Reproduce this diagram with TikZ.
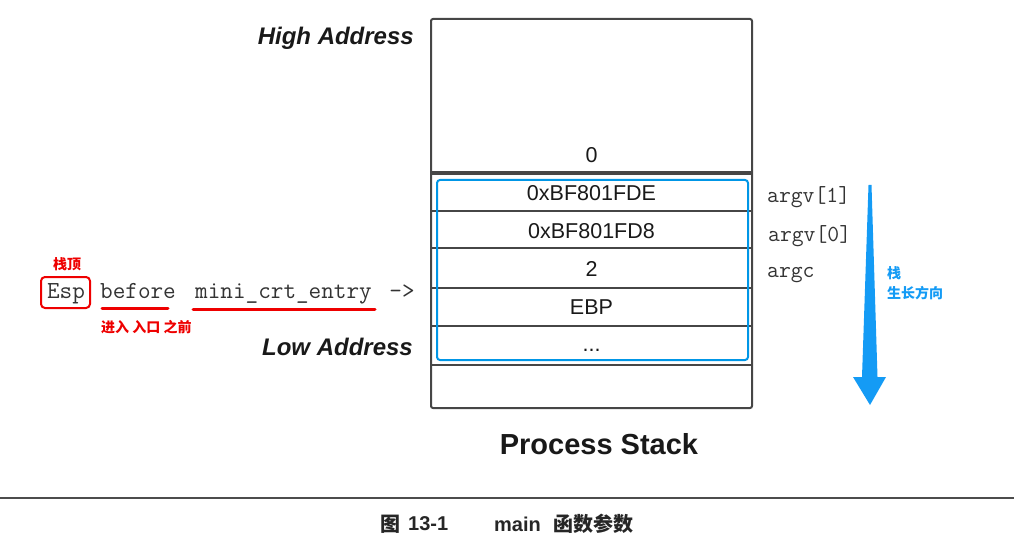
\documentclass[tikz,border=0pt]{standalone}
\usepackage{fontspec}
\setmainfont{Liberation Sans}
\newfontfamily\cjk{Noto Sans CJK SC}
\definecolor{annred}{RGB}{238,0,0}
\definecolor{annblue}{RGB}{20,155,245}
\definecolor{rectblue}{RGB}{0,150,230}
\definecolor{stackgray}{RGB}{70,70,70}
\begin{document}
\begin{tikzpicture}[x=1pt,y=-1pt,
  stackline/.style={draw=stackgray, line width=2.5pt},
  celltext/.style={font=\fontsize{21.5}{21.5}\selectfont, inner sep=0, text=black!90},
  addr/.style={font=\fontsize{24}{24}\selectfont\bfseries\itshape, inner sep=0, anchor=east, text=black!90},
  code/.style={font=\ttfamily\fontsize{24.5}{24.5}\selectfont, inner sep=0, anchor=base, text=black!80},
  argtext/.style={font=\ttfamily\fontsize{23}{23}\selectfont, inner sep=0, anchor=base west, text=black!80},
  redlabel/.style={font=\cjk\bfseries\fontsize{14}{14}\selectfont, inner sep=0, text=annred},
  bluelabel/.style={font=\cjk\bfseries\fontsize{14}{14}\selectfont, inner sep=0, text=annblue, anchor=west},
  uline/.style={draw=annred, line width=3pt, line cap=round},
  captext/.style={font=\cjk\bfseries\fontsize{20}{20}\selectfont, inner sep=0, anchor=west, text=black!85},
  capnum/.style={font=\bfseries\fontsize{20}{20}\selectfont, inner sep=0, anchor=west, text=black!85}
]
\useasboundingbox (0,0) rectangle (1014,548);

% stack frame
\node[draw=stackgray, line width=2pt, rounded corners=2pt, minimum width=321pt, minimum height=389pt, inner sep=0] (stack) at (591.5,213.5) {};
\draw[stackline, line width=4pt] (stack.west |- 0,173) -- (stack.east |- 0,173);
\draw[stackline] (stack.west |- 0,211) -- (stack.east |- 0,211);
\draw[stackline] (stack.west |- 0,248) -- (stack.east |- 0,248);
\draw[stackline] (stack.west |- 0,288) -- (stack.east |- 0,288);
\draw[stackline] (stack.west |- 0,326) -- (stack.east |- 0,326);
\draw[stackline, line width=2pt] (stack.west |- 0,365) -- (stack.east |- 0,365);

% cell texts
\node[celltext] (c0) at (591.5,155) {0};
\node[celltext] (c1) at (591.5,193) {0xBF801FDE};
\node[celltext] (c2) at (591.5,231) {0xBF801FD8};
\node[celltext] (c3) at (591.5,269) {2};
\node[celltext] (c4) at (591.5,307) {EBP};
\node[celltext] (c5) at (591.5,350) {...};

% blue highlight
\draw[rectblue, line width=2pt, rounded corners=3pt] (437,180) rectangle (748,360);

% addresses
\node[addr] (high) at (414,38) {High Address};
\node[addr] (low) at (413,347) {Low Address};
\node[font=\fontsize{29}{29}\selectfont\bfseries, inner sep=0, text=black!90] (title) at (599,444) {Process Stack};

% left code line
\node[code] (esp) at (66,298) {Esp};
\node[code] (before) at (138,298) {before};
\node[code] (mini) at (283.5,298) {mini\_crt\_entry};
\node[code] (arrowtxt) at (402,298) {->};
\node[draw=annred, line width=2pt, rounded corners=4pt, minimum width=49pt, minimum height=31pt, inner sep=0] (espbox) at (65.5,292.5) {};
\draw[uline] (102,308) -- (168,308);
\draw[uline] (193,309) -- (375,309);
\node[redlabel] (top) at (67,264) {栈顶};
\node[redlabel, anchor=west] (entry) at (101,327) {进入 入口 之前};

% right labels
\node[argtext] (a1) at (767,203) {argv[1]};
\node[argtext] (a0) at (768,241) {argv[0]};
\node[argtext] (ac) at (767,277) {argc};

% growth arrow
\fill[annblue] (868.5,185) -- (871.5,185) -- (877.5,377) -- (886,377) -- (870,405) -- (853,377) -- (862,377) -- cycle;
\node[bluelabel] (zhan) at (887,273) {栈};
\node[bluelabel] (grow) at (887,293) {生长方向};

% rule and caption
\draw[black!70, line width=2pt] (0,498) -- (1014,498);
\node[captext] (cap1) at (380,524) {图};
\node[capnum] (cap2) at (408,524) {13-1};
\node[capnum] (cap3) at (494,524) {main};
\node[captext] (cap4) at (553,524) {函数参数};
\end{tikzpicture}
\end{document}
